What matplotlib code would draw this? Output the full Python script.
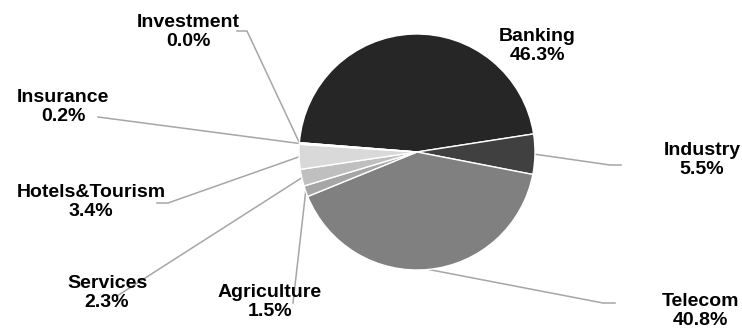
import numpy as np
import matplotlib.pyplot as plt

plt.rcParams['font.family'] = ['Liberation Sans', 'DejaVu Sans']

sectors = ["Banking", "Industry", "Telecom", "Agriculture", "Services",
           "Hotels&Tourism", "Insurance", "Investment"]
shares = [46.3, 5.5, 40.8, 1.5, 2.3, 3.4, 0.2, 0.0]
colors = ["#262626", "#404040", "#808080", "#a6a6a6", "#bfbfbf",
          "#d9d9d9", "#f0f0f0", "#f8f8f8"]

W, H = 742, 329


def px(x, y):
    # pixel position (top-left origin) -> data coords
    return x, H - y


# label centre and leader-line elbow/end in pixel space (None = no leader)
label_pos = {
    "Banking": (537, 46),
    "Industry": (702, 160),
    "Telecom": (700, 311),
    "Agriculture": (270, 302),
    "Services": (107, 293),
    "Hotels&Tourism": (91, 202),
    "Insurance": (63, 107),
    "Investment": (188, 32),
}
leader = {
    "Banking": None,
    "Industry": [(610, 165), (621, 165)],
    "Telecom": [(603, 303), (615, 303)],
    "Agriculture": [(293, 303)],
    "Services": [(117, 296)],
    "Hotels&Tourism": [(168, 203), (157, 203)],
    "Insurance": [(98, 117)],
    "Investment": [(247, 31), (237, 31)],
}

fig = plt.figure(figsize=(W / 100, H / 100), dpi=100)
ax = fig.add_axes([0, 0, 1, 1])

cx, cy = px(417, 152)
r = 118
wedges, _ = ax.pie(shares, colors=colors, startangle=175.5, counterclock=False,
                   radius=r, center=(cx, cy),
                   wedgeprops=dict(edgecolor="white", linewidth=1.0))

for w, name, val in zip(wedges, sectors, shares):
    pts = leader[name]
    if pts:
        mid = np.deg2rad((w.theta1 + w.theta2) / 2)
        xs = [cx + r * np.cos(mid)] + [p[0] for p in pts]
        ys = [cy + r * np.sin(mid)] + [H - p[1] for p in pts]
        ax.plot(xs, ys, color="#a6a6a6", lw=1.1, zorder=0)
    lx, ly = px(*label_pos[name])
    ax.text(lx, ly, f"{name}\n{val:.1f}%", ha="center", va="center",
            fontsize=14, fontweight="bold", linespacing=1.18, color="black")

ax.set_xlim(0, W)
ax.set_ylim(0, H)
ax.set_aspect("equal")
ax.axis("off")

plt.savefig("out.png", dpi=100)
